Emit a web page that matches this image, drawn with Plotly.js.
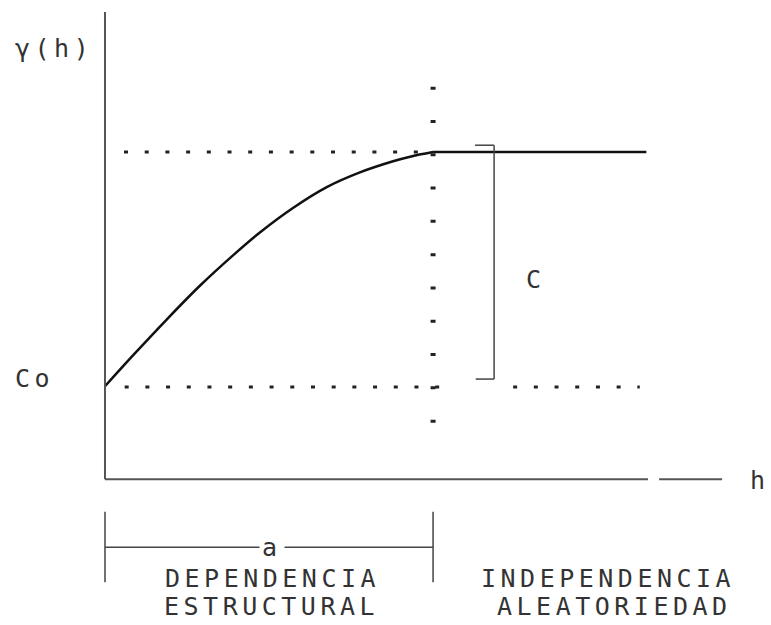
<!DOCTYPE html>
<html>
<head>
<meta charset="utf-8">
<script src="https://cdn.plot.ly/plotly-3.0.1.min.js"></script>
<style>
  html, body { margin: 0; padding: 0; background: #fff; }
  #g0 { width: 771px; height: 625px; }
  .annotation-text { letter-spacing: 4.5px; }
</style>
</head>
<body>
<div id="g0"></div>
<script>
// semivariogram (h, gamma(h)), rising part
const hVals = [0, 0.86, 1.88, 2.9, 3.91, 4.73, 5.74, 6.76, 7.77, 8.78, 9.3, 10.0];
const gammaVals = [2.84, 3.79, 4.88, 5.92, 6.85, 7.55, 8.3, 8.93, 9.38, 9.72, 9.86, 10.0];
// plateau after the range
const hFlat = [10.0, 16.5];
const gammaFlat = [10.0, 10.0];

const nugget = 2.82;  // Co
const sill = 10.0;    // Co + C
const range = 10.0;   // a

const ink = '#333';
const font = {family: 'DejaVu Sans Mono, monospace', size: 25, color: ink};

function seg(x0, y0, x1, y1, style) {
  return Object.assign({type: 'line', xref: 'x', yref: 'y', x0: x0, y0: y0, x1: x1, y1: y1}, style);
}

const axisLine = {line: {color: '#555', width: 2}};
const thin = {line: {color: '#444', width: 1.5}};
const dotsH = {line: {color: '#222', width: 3, dash: '4px,16.7px'}};
const dotsV = {line: {color: '#222', width: 5, dash: '3px,30.3px'}};

const shapes = [
  // axes
  seg(0, 0, 0, 14.28, axisLine),
  seg(0, 0, 16.55, 0, axisLine),
  seg(16.89, 0, 18.81, 0, axisLine),
  // dotted guides
  seg(0.58, sill, range - 0.1, sill, dotsH),
  seg(0.6, nugget, 10.65, nugget, dotsH),
  seg(12.44, nugget, 16.3, nugget, dotsH),
  seg(range, 12.0, range, 0.8, dotsV),
  // C bracket
  seg(11.86, nugget + 0.24, 11.86, sill + 0.21, thin),
  seg(11.28, sill + 0.21, 11.86, sill + 0.21, thin),
  seg(11.3, nugget + 0.24, 11.86, nugget + 0.24, thin),
  // a bracket
  seg(0, -2.08, range, -2.08, thin),
  seg(0, -1.0, 0, -3.15, thin),
  seg(range, -1.0, range, -3.15, thin)
];

function label(text, x, y, extra) {
  return Object.assign({text: text, x: x, y: y, xref: 'x', yref: 'y', showarrow: false, font: font}, extra || {});
}

const annotations = [
  label('γ(h)', -1.55, 13.18),
  label('Co', -2.15, 3.09),
  label('C', 13.15, 6.09),
  label('h', 19.95, -0.03),
  label('a', range / 2 + 0.1, -2.08, {bgcolor: '#fff', borderpad: 2}),
  label('DEPENDENCIA', 5.1, -3.03),
  label('ESTRUCTURAL', 5.07, -3.88),
  label('INDEPENDENCIA', 15.32, -3.03),
  label('ALEATORIEDAD', 15.54, -3.88)
];

const data = [{
  x: hVals, y: gammaVals, type: 'scatter', mode: 'lines',
  line: {color: '#111', width: 2.5, shape: 'spline', smoothing: 1},
  hoverinfo: 'skip'
}, {
  x: hFlat, y: gammaFlat, type: 'scatter', mode: 'lines',
  line: {color: '#111', width: 2.5},
  hoverinfo: 'skip'
}];

const layout = {
  width: 771, height: 625,
  margin: {l: 0, r: 0, t: 0, b: 0},
  paper_bgcolor: '#fff', plot_bgcolor: '#fff',
  showlegend: false,
  xaxis: {range: [-3.2, 20.3], visible: false, fixedrange: true},
  yaxis: {range: [-4.46, 14.65], visible: false, fixedrange: true},
  shapes: shapes,
  annotations: annotations
};

Plotly.newPlot('g0', data, layout, {staticPlot: true});
</script>
</body>
</html>
